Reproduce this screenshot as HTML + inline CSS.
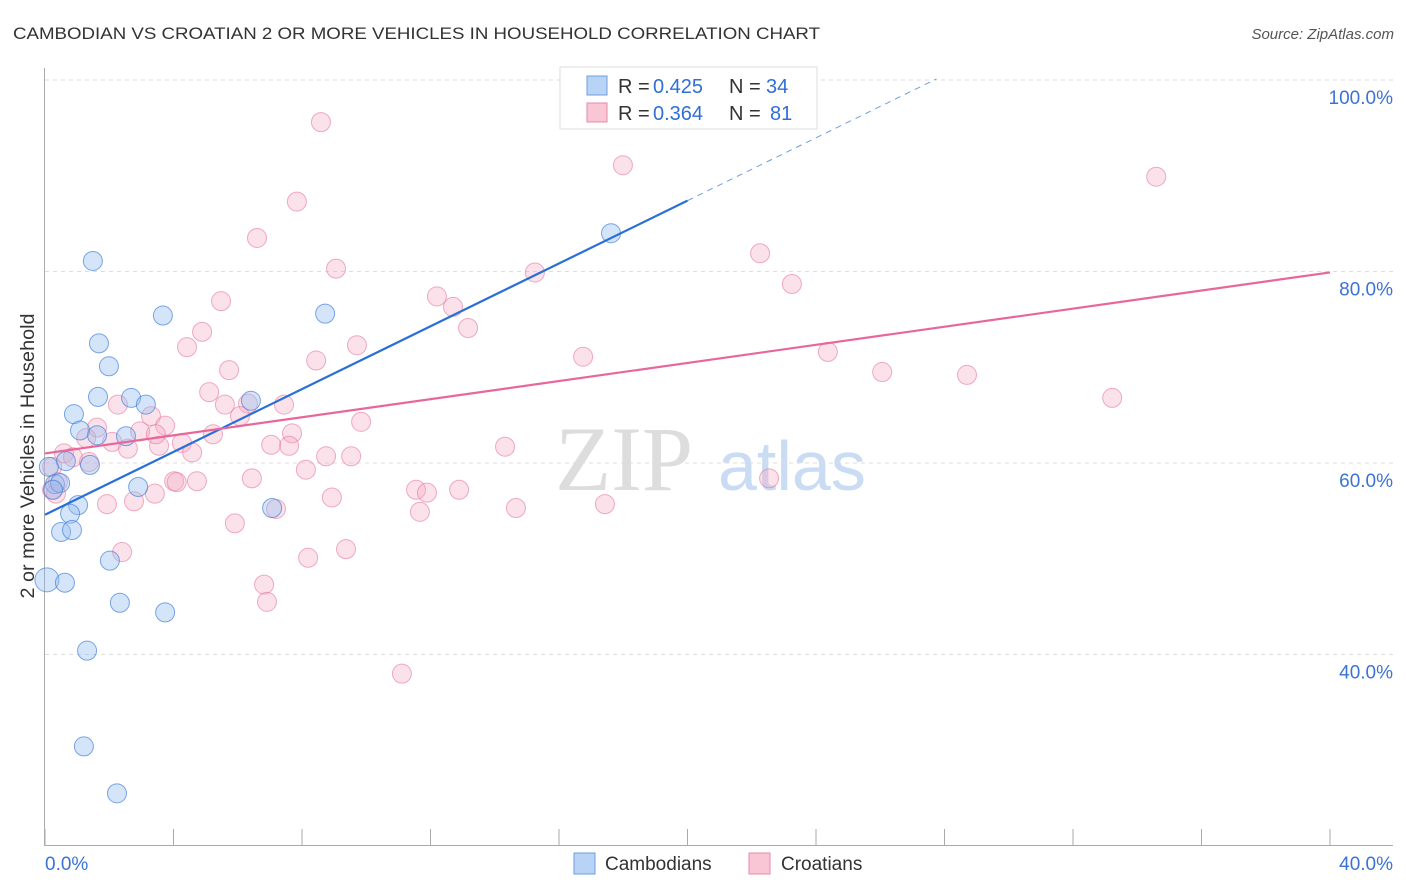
<!DOCTYPE html>
<html><head><meta charset="utf-8"><style>
body{margin:0;background:#fff;font-family:"Liberation Sans",sans-serif;}
#wrap{position:relative;width:1406px;height:892px;overflow:hidden}
</style></head><body><div id="wrap">
<svg id="svg" width="1406" height="892" xmlns="http://www.w3.org/2000/svg">
<text x="13" y="39" font-size="17" fill="#333" textLength="807" lengthAdjust="spacingAndGlyphs">CAMBODIAN VS CROATIAN 2 OR MORE VEHICLES IN HOUSEHOLD CORRELATION CHART</text>
<text x="1394" y="39" font-size="15" fill="#555" font-style="italic" text-anchor="end">Source: ZipAtlas.com</text>
<text x="555" y="490" font-size="92" fill="#ddd" font-family="Liberation Serif">ZIP</text>
<text x="718" y="490" font-size="70" fill="#c9dcf3">atlas</text>
<text transform="translate(34,456) rotate(-90)" font-size="19" fill="#333" text-anchor="middle" textLength="285" lengthAdjust="spacingAndGlyphs">2 or more Vehicles in Household</text>
<g id="grid"></g><g id="axes"></g><g id="pts"></g><g id="lines"></g>
<g>
<rect x="560" y="67" width="257" height="62" fill="#fff" stroke="#ddd"/>
<rect x="587" y="76" width="20" height="19" fill="#b8d3f5" stroke="#6a9fe0"/>
<rect x="587" y="103" width="20" height="19" fill="#f9c6d5" stroke="#e88aa8"/>
<g font-size="20">
<text x="618" y="93" fill="#333">R =</text><text x="653" y="93" fill="#2f6fd6">0.425</text>
<text x="729" y="93" fill="#333">N =</text><text x="766" y="93" fill="#2f6fd6">34</text></g>
<g font-size="20">
<text x="618" y="120" fill="#333">R =</text><text x="653" y="120" fill="#2f6fd6">0.364</text>
<text x="729" y="120" fill="#333">N =</text><text x="770" y="120" fill="#2f6fd6">81</text></g>
</g>
<g>
<rect x="574" y="853" width="21" height="21" fill="#b8d3f5" stroke="#6a9fe0"/>
<text x="605" y="870" font-size="19" fill="#333">Cambodians</text>
<rect x="749" y="853" width="21" height="21" fill="#f9c6d5" stroke="#e88aa8"/>
<text x="781" y="870" font-size="19" fill="#333">Croatians</text>
</g>
</svg></div>
<script>
const yTicks=[40,60,80,100];
const yTickLabels=["40.0%","60.0%","80.0%","100.0%"];
const xTicks=[0,4,8,12,16,20,24,28,32,36,40];
const blueX=[1.49,3.67,8.72,1.68,1.99,1.65,2.68,3.14,6.41,0.90,1.09,1.62,2.52,1.40,0.65,0.12,0.31,0.47,2.90,1.03,0.78,7.07,0.50,0.84,2.02,0.06,0.62,2.33,3.74,1.31,1.21,2.24,17.62,0.25];
const blueY=[81.1,75.4,75.6,72.5,70.1,66.9,66.8,66.1,66.5,65.1,63.4,62.9,62.8,59.8,60.2,59.6,57.8,57.9,57.5,55.6,54.7,55.3,52.8,53.0,49.8,47.8,47.5,45.4,44.4,40.4,30.4,25.5,84.0,57.2];
const pinkX=[8.59,17.99,34.59,7.84,6.60,22.26,9.06,15.25,23.25,12.20,5.48,12.70,13.17,4.89,4.42,9.71,24.37,16.75,8.44,5.73,26.06,28.70,5.11,33.22,2.27,5.60,6.32,7.44,3.30,6.07,9.84,1.62,3.74,2.96,1.28,5.23,7.69,4.26,3.55,7.04,7.60,14.32,2.09,2.58,4.58,0.59,0.87,8.75,9.53,1.37,0.22,8.12,6.44,4.02,4.73,22.54,0.22,0.34,3.42,8.93,11.55,11.89,12.89,2.77,1.93,7.19,11.67,14.66,17.43,5.91,9.37,2.40,8.19,6.82,6.91,11.11,3.45,4.10,0.40];
const pinkY=[95.6,91.1,89.9,87.3,83.5,81.9,80.3,79.9,78.7,77.4,76.9,76.3,74.1,73.7,72.1,72.3,71.6,71.1,70.7,69.7,69.5,69.2,67.4,66.8,66.1,66.1,66.2,66.1,64.9,64.9,64.3,63.7,63.9,63.3,62.6,63.0,63.1,62.1,61.8,61.9,61.8,61.7,62.2,61.5,61.1,61.0,60.6,60.7,60.7,60.1,59.6,59.3,58.4,58.1,58.1,58.4,57.2,56.8,56.8,56.4,57.2,56.9,57.2,56.0,55.7,55.2,54.9,55.3,55.7,53.7,51.0,50.7,50.1,47.3,45.5,38.0,63.0,58.0,58.0];
const blueTrend=[54.6,1.64,20.0,27.75];
const pinkTrend=[61.0,0.4725,40];
const X=v=>45+v/40*1285, Y=v=>463-(v-60)/20*191.5;
const NS="http://www.w3.org/2000/svg";
function mk(p,t,a){const e=document.createElementNS(NS,t);for(const k in a)e.setAttribute(k,a[k]);p.appendChild(e);return e;}
const grid=document.getElementById('grid'),axes=document.getElementById('axes'),pts=document.getElementById('pts'),lines=document.getElementById('lines');
yTicks.forEach((t,i)=>{const l=mk(grid,'line',{x1:45,x2:1393,y1:Y(t),y2:Y(t),stroke:'#ddd','stroke-dasharray':'4,4'});


const tx=mk(axes,'text',{x:1393,y:Y(t)+24,'font-size':19,fill:'#3b73d4','text-anchor':'end'});tx.textContent=yTickLabels[i];

});
const ax=mk(axes,'path',{d:'M44.5 68V845.5H1393',stroke:'#aaa',fill:'none'});


xTicks.forEach(t=>{const l=mk(axes,'line',{x1:X(t),x2:X(t),y1:829,y2:845,stroke:'#aaa'});

});
let a=mk(axes,'text',{x:45,y:870,'font-size':19,fill:'#3b73d4'});a.textContent='0.0%';


a=mk(axes,'text',{x:1393,y:870,'font-size':19,fill:'#3b73d4','text-anchor':'end'});a.textContent='40.0%';


pinkX.forEach((x,i)=>{const c=mk(pts,'circle',{cx:X(x),cy:Y(pinkY[i]),r:9.5,fill:'rgba(244,170,195,0.35)',stroke:'rgba(230,120,155,0.6)'});

});
blueX.forEach((x,i)=>{const c=mk(pts,'circle',{cx:X(x),cy:Y(blueY[i]),r:i==25?12:9.5,fill:'rgba(150,190,240,0.4)',stroke:'rgba(70,130,220,0.7)'});

});
let l=mk(lines,'line',{x1:X(0),y1:Y(blueTrend[0]),x2:X(blueTrend[2]),y2:Y(blueTrend[0]+blueTrend[1]*blueTrend[2]),stroke:'#2a6fd8','stroke-width':2.2});


l=mk(lines,'line',{x1:X(blueTrend[2]),y1:Y(blueTrend[0]+blueTrend[1]*blueTrend[2]),x2:X(blueTrend[3]),y2:Y(blueTrend[0]+blueTrend[1]*blueTrend[3]),stroke:'#6a9fe0','stroke-width':1,'stroke-dasharray':'6,5'});


l=mk(lines,'line',{x1:X(0),y1:Y(pinkTrend[0]),x2:X(pinkTrend[2]),y2:Y(pinkTrend[0]+pinkTrend[1]*pinkTrend[2]),stroke:'#e8679a','stroke-width':2.2});


</script></body></html>
